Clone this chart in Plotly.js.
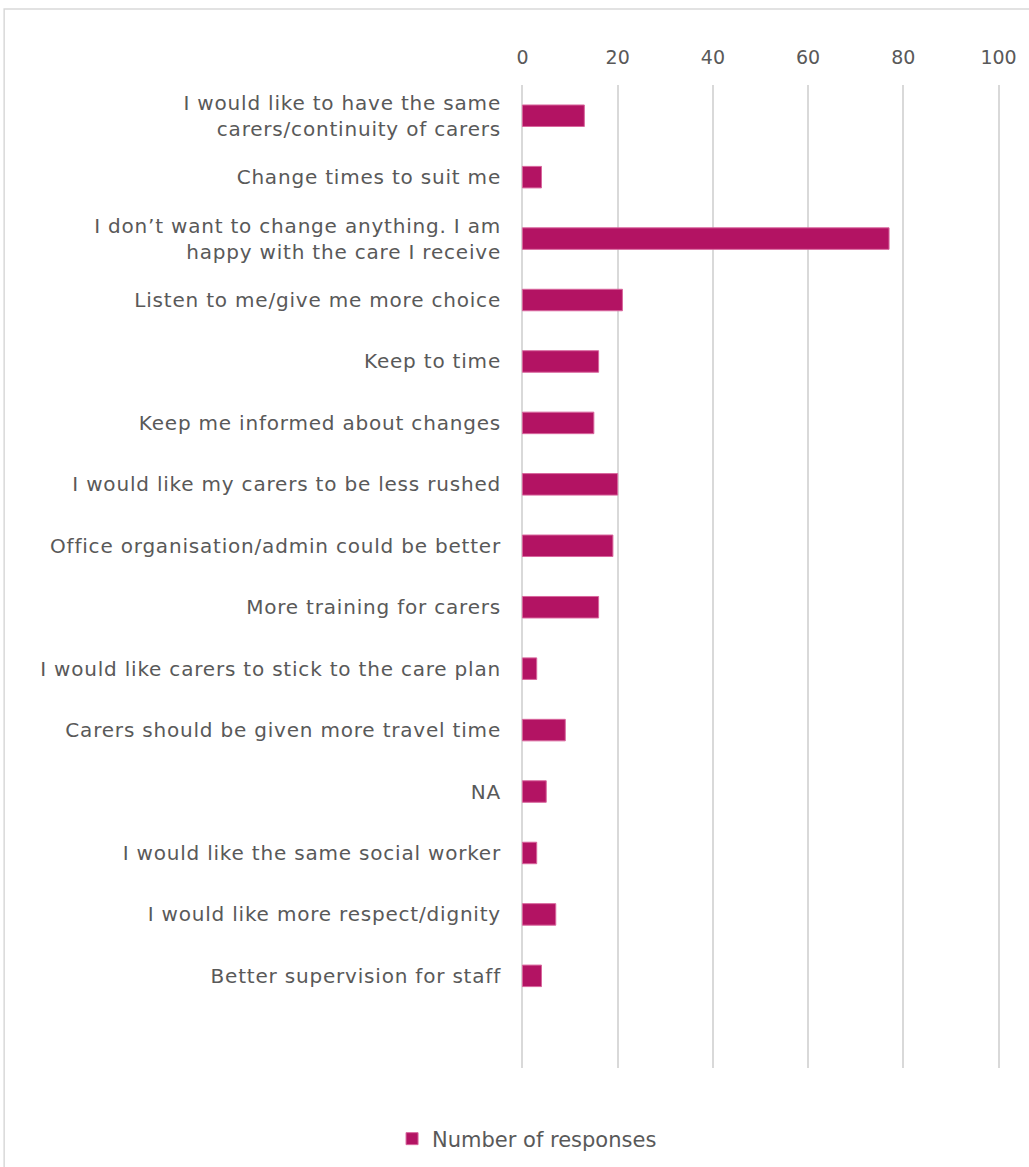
<!DOCTYPE html>
<html>
<head>
<meta charset="utf-8">
<script src="https://cdn.plot.ly/plotly-3.0.1.min.js"></script>
<style>
html,body{margin:0;padding:0;background:#fff;}
#chart{width:1029px;height:1167px;}
#chart .ytick text{letter-spacing:0.8px;}
</style>
</head>
<body>
<div id="chart"></div>
<script>
const categories = [
  "I would like to have the same<br>carers/continuity of carers",
  "Change times to suit me",
  "I don’t want to change anything. I am<br>happy with the care I receive",
  "Listen to me/give me more choice",
  "Keep to time",
  "Keep me informed about changes",
  "I would like my carers to be less rushed",
  "Office organisation/admin could be better",
  "More training for carers",
  "I would like carers to stick to the care plan",
  "Carers should be given more travel time",
  "NA",
  "I would like the same social worker",
  "I would like more respect/dignity",
  "Better supervision for staff"
];
const responses = [13, 4, 77, 21, 16, 15, 20, 19, 16, 3, 9, 5, 3, 7, 4];
const seriesName = "Number of responses";
const xTicks = [0, 20, 40, 60, 80, 100];

const font = {family: "DejaVu Sans, sans-serif", size: 19, color: "#595959"};
const yfont = {family: "DejaVu Sans, sans-serif", size: 20, color: "#595959"};
const lfont = {family: "DejaVu Sans, sans-serif", size: 21, color: "#595959"};

const trace = {
  type: "bar",
  orientation: "h",
  y: categories,
  x: responses,
  name: seriesName,
  width: 0.35,
  marker: {color: "#B31363", line: {color: "#d8669d", width: 1}},
  showlegend: true,
  hoverinfo: "x+y"
};

const layout = {
  width: 1029, height: 1167,
  margin: {l: 521, r: 29, t: 85, b: 99},
  paper_bgcolor: "#ffffff",
  plot_bgcolor: "#ffffff",
  font: font,
  xaxis: {
    side: "top",
    range: [-0.3, 100.3],
    tickvals: xTicks,
    showgrid: true,
    gridcolor: "#d9d9d9",
    gridwidth: 2,
    zeroline: false,
    showline: false,
    ticks: "",
    ticklabelstandoff: 16,
    tickfont: font,
    fixedrange: true
  },
  yaxis: {
    type: "category",
    range: [15.5, -0.5],
    showgrid: false,
    zeroline: false,
    showline: false,
    ticks: "",
    ticklabelstandoff: 19,
    tickfont: yfont,
    fixedrange: true
  },
  showlegend: true,
  legend: {
    orientation: "h",
    xref: "container", x: 0.381, xanchor: "left",
    yref: "container", y: 0.024, yanchor: "middle",
    font: lfont,
    bgcolor: "rgba(0,0,0,0)"
  },
  shapes: [{
    type: "rect", xref: "paper", yref: "paper",
    x0: -1.079, x1: 1.2, y0: -0.2, y1: 1.0773,
    line: {color: "#d9d9d9", width: 1.5},
    layer: "below"
  }]
};

Plotly.newPlot("chart", [trace], layout, {displayModeBar: false, staticPlot: true});
</script>
</body>
</html>
